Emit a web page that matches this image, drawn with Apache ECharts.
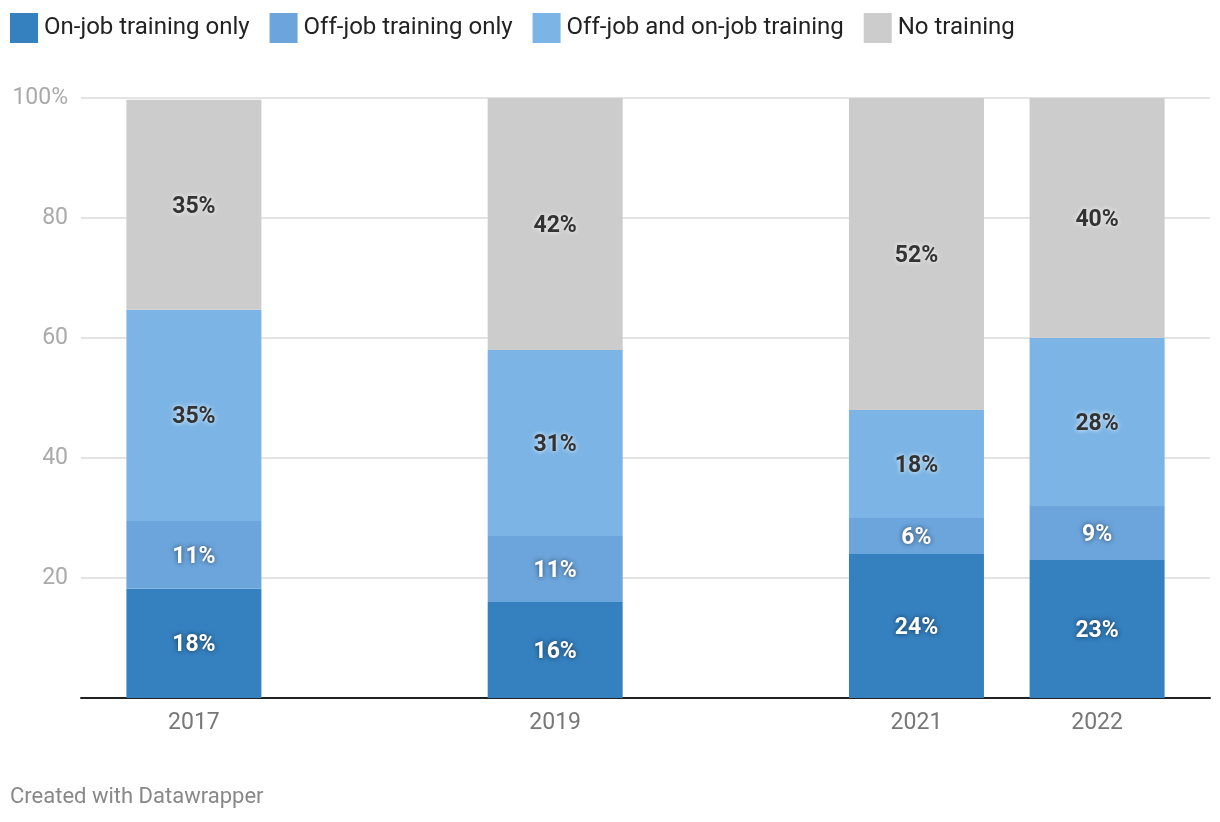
<!DOCTYPE html>
<html>
<head>
<meta charset="utf-8">
<script src="https://cdn.jsdelivr.net/npm/echarts@6/dist/echarts.min.js"></script>
<style>
html,body{margin:0;padding:0;background:#fff;}
#chart{width:1220px;height:822px;}
</style>
</head>
<body>
<div id="chart"></div>
<script>
const years = [2017, 2019, 2021, 2022];
const onJobOnly = [18.2, 16, 24, 23];
const offJobOnly = [11.3, 11, 6, 9];
const bothTraining = [35.2, 31, 18, 28];
const noTraining = [35, 42, 52, 40];
const seriesNames = ['On-job training only', 'Off-job training only', 'Off-job and on-job training', 'No training'];
const colors = ['#3580bf', '#6ba5dc', '#7bb4e5', '#cccccc'];
const yTicks = [0, 20, 40, 60, 80, 100];

const darkLabel = { fill: '#333333', textShadowColor: 'rgba(255,255,255,0.95)', textShadowBlur: 5 };
const lightLabel = { fill: '#ffffff', textShadowColor: 'rgba(0,0,0,0.6)', textShadowBlur: 5 };
const labelStyles = [lightLabel, lightLabel, darkLabel, darkLabel];
const allValues = [onJobOnly, offJobOnly, bothTraining, noTraining];
const BAR_W = 135;

// cumulative bases for stacking
const bases = allValues.map((vals, i) =>
  vals.map((_, j) => allValues.slice(0, i).reduce((s, arr) => s + arr[j], 0)));

const series = allValues.map((vals, i) => ({
  name: seriesNames[i],
  type: 'custom',
  itemStyle: { color: colors[i] },
  data: vals.map((v, j) => [years[j], bases[i][j], bases[i][j] + v, v]),
  encode: { x: 0, y: [1, 2] },
  renderItem: function (params, api) {
    const x = api.value(0), b = api.value(1), t = api.value(2), v = api.value(3);
    const p0 = api.coord([x, b]);
    const p1 = api.coord([x, t]);
    return {
      type: 'rect',
      shape: { x: p0[0] - BAR_W / 2, y: p1[1], width: BAR_W, height: p0[1] - p1[1] },
      style: { fill: colors[i] },
      textContent: {
        style: Object.assign({
          text: Math.round(v) + '%',
          fontFamily: 'Roboto',
          fontWeight: 'bold',
          fontSize: 23
        }, labelStyles[i])
      },
      textConfig: { position: 'inside', offset: [0, 2] }
    };
  }
}));

const chart = echarts.init(document.getElementById('chart'), null, { renderer: 'canvas' });
chart.setOption({
  animation: false,
  backgroundColor: '#ffffff',
  textStyle: { fontFamily: 'Roboto' },
  legend: {
    left: 10,
    top: 13,
    padding: 0,
    icon: 'rect',
    itemWidth: 28,
    itemHeight: 30,
    itemGap: 20,
    textStyle: { fontFamily: 'Roboto', fontSize: 24, color: '#222222', padding: [3, 0, 0, 1] },
    data: seriesNames.map((n, i) => ({ name: n, itemStyle: { color: colors[i] } }))
  },
  grid: { left: 81, right: 10, top: 98, bottom: 124, containLabel: false },
  xAxis: {
    type: 'value',
    min: 2016.375,
    max: 2022.625,
    splitLine: { show: false },
    axisLine: { show: true, onZero: true, lineStyle: { color: '#222222', width: 2 } },
    axisTick: { show: false },
    axisLabel: {
      customValues: years,
      formatter: v => String(v),
      fontFamily: 'Roboto',
      fontSize: 23,
      color: '#777777',
      margin: 14
    }
  },
  yAxis: {
    type: 'value',
    min: 0,
    max: 100,
    interval: 20,
    axisLine: { show: false },
    axisTick: { show: false },
    splitLine: { lineStyle: { color: '#e3e3e3', width: 2 } },
    axisLabel: {
      fontFamily: 'Roboto',
      fontSize: 23,
      color: '#aaaaaa',
      margin: 13,
      formatter: v => v === 100 ? '100%' : (v === 0 ? '' : String(v))
    }
  },
  graphic: [{
    type: 'text',
    left: 10,
    top: 786,
    style: { text: 'Created with Datawrapper', fontFamily: 'Roboto', fontSize: 22, fill: '#888888' }
  }],
  series: series
});
</script>
</body>
</html>
